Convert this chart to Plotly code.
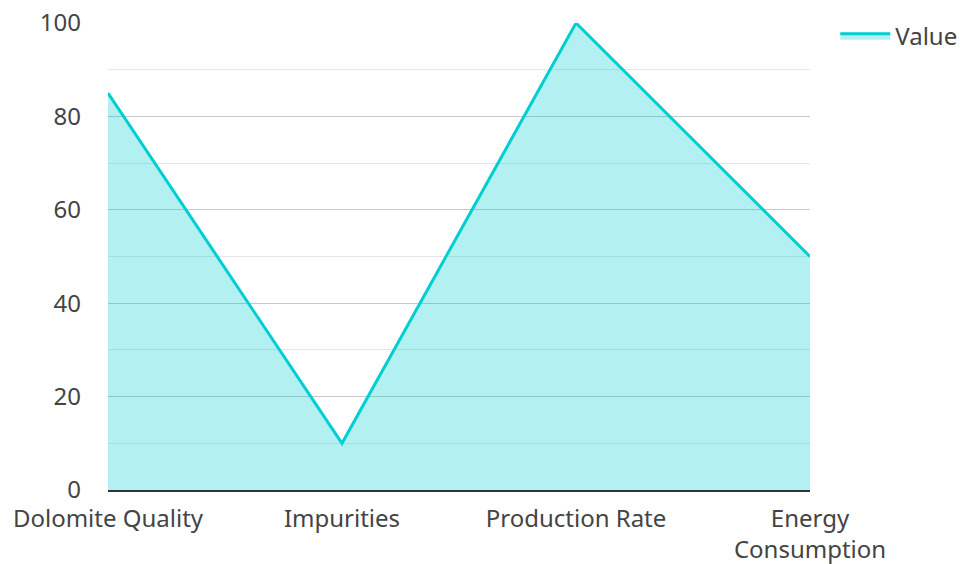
import plotly.graph_objects as go

categories = ["Dolomite Quality", "Impurities", "Production Rate", "Energy<br>Consumption"]
values = [85, 10, 100, 50]
y_ticks = [0, 20, 40, 60, 80, 100]

fig = go.Figure()
fig.add_trace(go.Scatter(
    x=categories, y=values, name="Value", mode="lines",
    line=dict(color="#00CED1", width=3),
    fill="tozeroy", fillcolor="rgba(0,206,209,0.3)",
))
fig.update_layout(
    width=960, height=564,
    margin=dict(l=108, r=150, t=23, b=74, autoexpand=False),
    paper_bgcolor="white", plot_bgcolor="white",
    font=dict(family="Noto Sans", size=24, color="#444"),
    showlegend=True,
    legend=dict(x=1.036, y=0.972, xanchor="left", yanchor="middle", font=dict(size=24),
                itemwidth=50),
    xaxis=dict(range=[0, 3], showgrid=False, showline=True, linecolor="#333", linewidth=2,
               ticks="", tickfont=dict(size=24), ticklabelstandoff=6),
    yaxis=dict(range=[0, 100], tickvals=y_ticks, showgrid=True, gridcolor="#c8c8c8", gridwidth=1,
               minor=dict(dtick=10, showgrid=True, gridcolor="#e6e6e6"),
               zeroline=False, ticks="", tickfont=dict(size=24), ticklabelstandoff=26),
)
fig.write_html(
    "out.html",
    config={"displayModeBar": False},
    post_script="document.body.style.margin='0';document.body.style.overflow='hidden';",
)
